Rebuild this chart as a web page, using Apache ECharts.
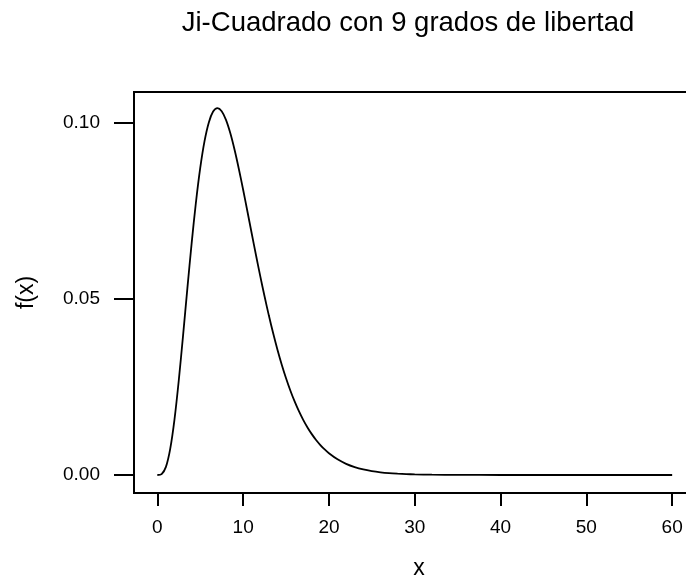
<!DOCTYPE html>
<html>
<head>
<meta charset="utf-8">
<script src="https://cdn.jsdelivr.net/npm/echarts@6/dist/echarts.min.js"></script>
<style>
html,body{margin:0;padding:0;background:#fff;}
#chart{width:686px;height:577px;}
</style>
</head>
<body>
<div id="chart"></div>
<script>
// Data (density of chi-square, 9 d.f.)
var xValues = [0, 0.5, 1, 1.5, 2, 2.5, 3, 3.5, 4, 4.5, 5, 5.5, 6, 6.5, 7, 7.5, 8, 8.5, 9, 9.5,
  10, 10.5, 11, 11.5, 12, 12.5, 13, 13.5, 14, 14.5, 15, 15.5, 16, 16.5, 17, 17.5, 18, 18.5, 19, 19.5,
  20, 21, 22, 23, 24, 25, 26, 27, 28, 29, 30, 32, 35, 40, 45, 50, 55, 60];
var fValues = [0, 0.00026, 0.00230, 0.00742, 0.01581, 0.02689, 0.03965, 0.05296, 0.06582, 0.07741,
  0.08717, 0.09477, 0.10008, 0.10315, 0.10412, 0.10324, 0.10078, 0.09704, 0.09231, 0.08687,
  0.08096, 0.07479, 0.06855, 0.06237, 0.05638, 0.05065, 0.04525, 0.04022, 0.03557, 0.03132,
  0.02747, 0.02399, 0.02088, 0.01811, 0.01566, 0.01350, 0.01160, 0.00994, 0.00850, 0.00725,
  0.00617, 0.00444, 0.00317, 0.00225, 0.00158, 0.00111, 0.00077, 0.00053, 0.00037, 0.00025,
  0.00017, 0.00008, 0.00002, 0.000003, 0, 0, 0, 0];
var xTicks = [0, 10, 20, 30, 40, 50, 60];
var yTicks = [0, 0.05, 0.10];
var titleText = 'Ji-Cuadrado con 9 grados de libertad';
var xName = 'x';
var yName = 'f(x)';

var seriesData = xValues.map(function (x, i) { return [x, fValues[i]]; });
var FONT = '"Liberation Sans", Arial, sans-serif';

var chart = echarts.init(document.getElementById('chart'), null, {renderer: 'canvas'});
chart.setOption({
  animation: false,
  backgroundColor: '#ffffff',
  graphic: [{
    type: 'text',
    x: 408, y: 9,
    style: {text: titleText, fill: '#000', font: '27.5px ' + FONT, align: 'center', verticalAlign: 'top'},
    silent: true
  }],
  grid: {
    left: 134, top: 92, width: 570, height: 401,
    outerBoundsMode: 'none', containLabel: false,
    show: true, borderColor: '#000', borderWidth: 2, backgroundColor: 'transparent'
  },
  xAxis: {
    type: 'value',
    min: -2.72, max: 63.71,
    splitLine: {show: false},
    axisLine: {show: false, onZero: false},
    axisTick: {show: true, inside: false, length: 13, customValues: xTicks, lineStyle: {color: '#000', width: 2}},
    axisLabel: {customValues: xTicks, color: '#000', fontFamily: FONT, fontSize: 19, margin: 25},
    name: xName, nameLocation: 'middle', nameGap: 64,
    nameTextStyle: {color: '#000', fontFamily: FONT, fontSize: 23}
  },
  yAxis: {
    type: 'value',
    min: -0.00511, max: 0.10871,
    splitLine: {show: false},
    axisLine: {show: false, onZero: false},
    axisTick: {show: true, inside: false, length: 20, customValues: yTicks, lineStyle: {color: '#000', width: 2}},
    axisLabel: {customValues: yTicks, color: '#000', fontFamily: FONT, fontSize: 19, margin: 34,
      formatter: function (v) { return v.toFixed(2); }},
    name: yName, nameLocation: 'middle', nameGap: 96, nameRotate: 90,
    nameTextStyle: {color: '#000', fontFamily: FONT, fontSize: 23}
  },
  series: [{
    type: 'line',
    data: seriesData,
    showSymbol: false,
    smooth: 0.3,
    lineStyle: {color: '#000', width: 1.8},
    clip: true
  }]
});
</script>
</body>
</html>
